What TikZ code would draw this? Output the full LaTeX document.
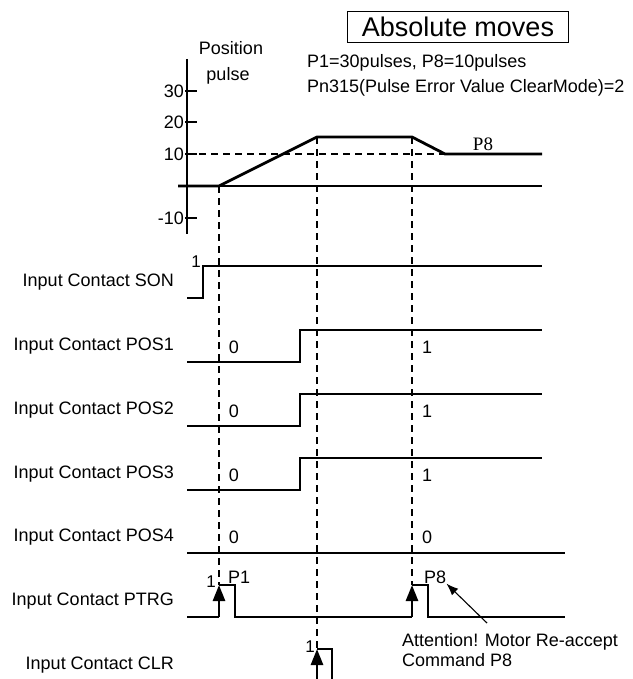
\documentclass[tikz,border=0pt]{standalone}
\usepackage{fontspec}
\setmainfont{Liberation Sans}
\newfontfamily\timesfont{Liberation Serif}
\usetikzlibrary{arrows.meta,positioning}

\begin{document}
\begin{tikzpicture}[x=1pt,y=-1pt,
    txt/.style={inner sep=0pt,font=\fontsize{18}{20}\selectfont},
    lbl/.style={txt,anchor=east},
    bit/.style={txt,font=\fontsize{17}{18}\selectfont},
    sig/.style={line width=2.7pt},
    guide/.style={line width=1.1pt,dash pattern=on 7pt off 5pt},
    trig/.style={line width=2.7pt,-{Triangle[length=16pt,width=12pt]}},
    notearrow/.style={line width=1.1pt,-{Latex[length=12pt,width=9pt]}}]
  \useasboundingbox (0,0) rectangle (632,679);

  % title and notes
  \node[draw,line width=0.9pt,minimum width=221pt,minimum height=31pt,inner sep=0pt,
        font=\fontsize{27}{30}\selectfont] (title) at (458,27) {Absolute moves};
  \node[txt,anchor=west] (p1p8) at (307,63) {P1=30pulses, P8=10pulses};
  \node[txt,anchor=west] (pn315) at (307,88) {Pn315(Pulse Error Value ClearMode)=2};

  % position axis
  \node[txt] (ylab) at (231,48) {Position};
  \node[txt] (yunit) at (228,76) {pulse};
  \draw[line width=1.5pt] (187,59) -- (187,234);
  \draw[line width=1.1pt] (178,186) -- (542,186);
  \foreach \v/\y in {30/91,20/122,10/154,-10/218} {
    \draw[line width=1.3pt] (185,\y) -- (197,\y);
    \node[lbl] at (184,\y) {\v};
  }
  \coordinate (s0) at (219,186);
  \coordinate (pk1) at (317,137);
  \coordinate (pk2) at (412,137);
  \coordinate (st) at (445,154);
  \draw[guide] (187,154) -- (st);
  \draw[line width=2.8pt] (178,186) -- (s0) -- (pk1) -- (pk2) -- (st) -- (542,154);
  \node[txt,font=\timesfont\fontsize{19}{20}\selectfont] (p8top) at (483,144) {P8};

  % guides down through the signals
  \draw[guide] (s0) -- (219,585);
  \draw[guide] (pk1) -- (317,649);
  \draw[guide] (pk2) -- (412,585);

  % signal names
  \node[lbl] (son) at (174,282) {Input Contact SON};
  \node[lbl] (pos1) at (174,346) {Input Contact POS1};
  \node[lbl] (pos2) at (174,410) {Input Contact POS2};
  \node[lbl] (pos3) at (174,474) {Input Contact POS3};
  \node[lbl] (pos4) at (174,537) {Input Contact POS4};
  \node[lbl] (ptrg) at (174,601) {Input Contact PTRG};
  \node[lbl] (clr) at (174,665) {Input Contact CLR};

  % SON
  \draw[sig] (187,298) -| (203,266) -- (542,266);
  \node[bit] at (196,262) {1};
  % POS1..POS3
  \foreach \lo/\hi in {362/330,426/394,490/458} {
    \draw[sig] (187,\lo) -| (300,\hi) -- (542,\hi);
    \node[txt] at (234,\lo-15) {0};
    \node[txt] at (427,\lo-15) {1};
  }
  % POS4
  \draw[sig] (187,553) -- (565,553);
  \node[txt] at (234,537) {0};
  \node[txt] at (427,537) {0};

  % PTRG
  \draw[sig] (187,617) -- (219,617);
  \draw[trig] (219,617) -- (219,585);
  \draw[sig] (219,585) -| (235,617) -- (412,617);
  \draw[trig] (412,617) -- (412,585);
  \draw[sig] (412,585) -| (428,617) -- (565,617);
  \node[bit] at (211,582) {1};
  \node[txt,anchor=west] (p1) at (228,577) {P1};
  \node[txt,anchor=west] (p8) at (424,577) {P8};

  % CLR
  \draw[trig] (317,679) -- (317,649);
  \draw[sig] (317,649) -| (332,679);
  \node[bit] at (310,647) {1};

  % note
  \node[txt,anchor=north west,align=left] (note) at (402,633) {Attention! Motor Re-accept\\Command P8};
  \coordinate (tail) at (487,623);
  \draw[notearrow] (tail) -- (p8.south east);
\end{tikzpicture}
\end{document}
